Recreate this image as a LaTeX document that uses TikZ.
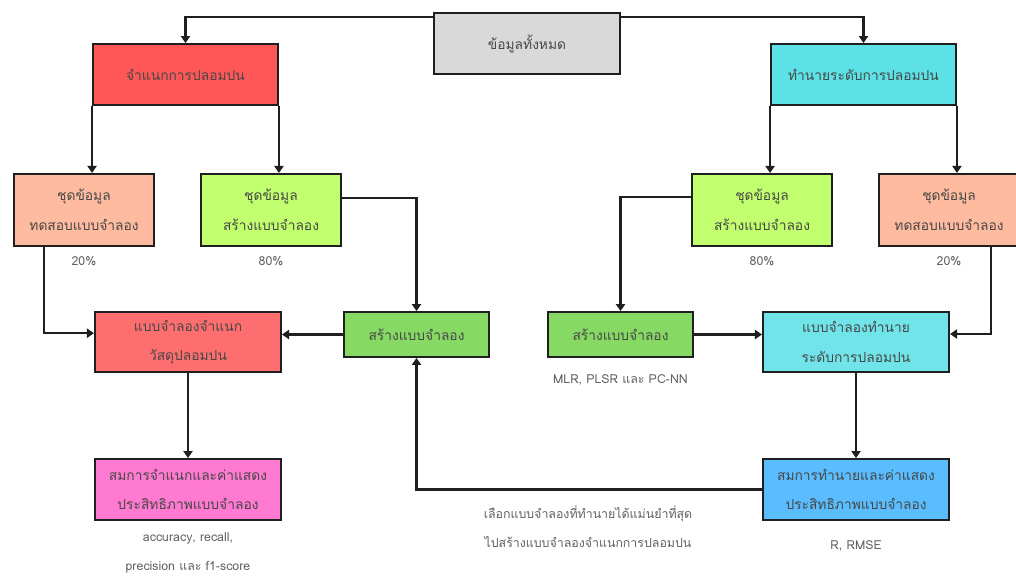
\documentclass[tikz,border=0pt]{standalone}
\usepackage{fontspec}
\setmainfont[Script=Thai]{Loma}
\usepackage{xcolor}
\usetikzlibrary{arrows.meta,positioning}

\definecolor{boxgrey}{HTML}{D9D9D9}
\definecolor{clsred}{HTML}{FF5757}
\definecolor{clsredlt}{HTML}{FF6E6E}
\definecolor{prdcyan}{HTML}{5CE1E6}
\definecolor{prdcyanlt}{HTML}{70E4E8}
\definecolor{testpeach}{HTML}{FFBBA0}
\definecolor{trainlime}{HTML}{C1FF6E}
\definecolor{buildgreen}{HTML}{86DA63}
\definecolor{eqpink}{HTML}{FF7AD0}
\definecolor{eqblue}{HTML}{5ABDFF}

\begin{document}
\begin{tikzpicture}[x=0.025cm,y=-0.025cm,
    stepbox/.style={draw=black!88, line width=1.45pt, align=center, text=black!72,
      inner sep=0pt, font=\fontsize{9.8}{21}\selectfont},
    note/.style={align=center, text=black!62, font=\fontsize{8.8}{20.5}\selectfont},
    link/.style={draw=black!88, line width=1.45pt, -{Triangle[width=6.5pt,length=5pt]}}]
    \useasboundingbox[fill=white] (0,0) rectangle (1016,579);

    % top
    \node[stepbox, fill=boxgrey, minimum width=4.65cm, minimum height=1.52cm] (all) at (527,43.5) {ข้อมูลทั้งหมด};
    \node[stepbox, fill=clsred, minimum width=4.62cm, minimum height=1.52cm] (cls) at (185.5,74.5) {จำแนกการปลอมปน};
    \node[stepbox, fill=prdcyan, minimum width=4.62cm, minimum height=1.52cm] (prd) at (863.5,74.5) {ทำนายระดับการปลอมปน};

    % data sets
    \node[stepbox, fill=testpeach, minimum width=3.5cm, minimum height=1.8cm] (clstest) at (84,210) {ชุดข้อมูล\\ทดสอบแบบจำลอง};
    \node[stepbox, fill=trainlime, minimum width=3.5cm, minimum height=1.8cm] (clstrain) at (271,210) {ชุดข้อมูล\\สร้างแบบจำลอง};
    \node[stepbox, fill=trainlime, minimum width=3.5cm, minimum height=1.8cm] (prdtrain) at (762,210) {ชุดข้อมูล\\สร้างแบบจำลอง};
    \node[stepbox, fill=testpeach, minimum width=3.5cm, minimum height=1.8cm] (prdtest) at (949,210) {ชุดข้อมูล\\ทดสอบแบบจำลอง};
    \node[note, below=0.12cm of clstest] (clstestpct) {20\%};
    \node[note, below=0.12cm of clstrain] (clstrainpct) {80\%};
    \node[note, below=0.12cm of prdtrain] (prdtrainpct) {80\%};
    \node[note, below=0.12cm of prdtest] (prdtestpct) {20\%};

    % models
    \node[stepbox, fill=clsredlt, minimum width=4.65cm, minimum height=1.5cm] (clsmodel) at (188,342) {แบบจำลองจำแนก\\วัสดุปลอมปน};
    \node[stepbox, fill=buildgreen, minimum width=3.62cm, minimum height=1.12cm] (clsbuild) at (416.5,334.5) {สร้างแบบจำลอง};
    \node[stepbox, fill=buildgreen, minimum width=3.62cm, minimum height=1.12cm] (prdbuild) at (620.5,334.5) {สร้างแบบจำลอง};
    \node[stepbox, fill=prdcyanlt, minimum width=4.65cm, minimum height=1.5cm] (prdmodel) at (856,342) {แบบจำลองทำนาย\\ระดับการปลอมปน};
    \node[note, below=0.3cm of prdbuild] (prdmethods) {MLR, PLSR และ PC-NN};

    % equations
    \node[stepbox, fill=eqpink, minimum width=4.65cm, minimum height=1.52cm] (clseq) at (188,489.5) {สมการจำแนกและค่าแสดง\\ประสิทธิภาพแบบจำลอง};
    \node[stepbox, fill=eqblue, minimum width=4.65cm, minimum height=1.52cm] (prdeq) at (856,489.5) {สมการทำนายและค่าแสดง\\ประสิทธิภาพแบบจำลอง};
    \node[note, below=0.18cm of clseq] (clsscore) {accuracy, recall,\\precision และ f1-score};
    \node[note, below=0.36cm of prdeq] (prdscore) {R, RMSE};
    \node[note] (pick) at (588,527) {เลือกแบบจำลองที่ทำนายได้แม่นยำที่สุด\\ไปสร้างแบบจำลองจำแนกการปลอมปน};

    % connectors
    \draw[link] ([yshift=-0.13cm]all.north west) -| (cls.north);
    \draw[link] ([yshift=-0.13cm]all.north east) -| (prd.north);
    \draw[link] (cls.south west) -- (cls.south west |- clstest.north);
    \draw[link] (cls.south east) -- (cls.south east |- clstrain.north);
    \draw[link] (prd.south west) -- (prd.south west |- prdtrain.north);
    \draw[link] (prd.south east) -- (prd.south east |- prdtest.north);
    \draw[link] ([xshift=-1cm]clstest.south) |- ([yshift=0.22cm]clsmodel.west);
    \draw[link] ([yshift=0.3cm]clstrain.east) -| (clsbuild.north);
    \draw[link] (clsbuild.west) -- (clsbuild.west -| clsmodel.east);
    \draw[link] ([yshift=0.32cm]prdtrain.west) -| (prdbuild.north);
    \draw[link] (prdbuild.east) -- (prdbuild.east -| prdmodel.west);
    \draw[link] ([xshift=1.05cm]prdtest.south) |- ([yshift=0.2cm]prdmodel.east);
    \draw[link] (clsmodel) -- (clseq);
    \draw[link] (prdmodel) -- (prdeq);
    \draw[link] (prdeq.west) -| (clsbuild.south);
\end{tikzpicture}
\end{document}
